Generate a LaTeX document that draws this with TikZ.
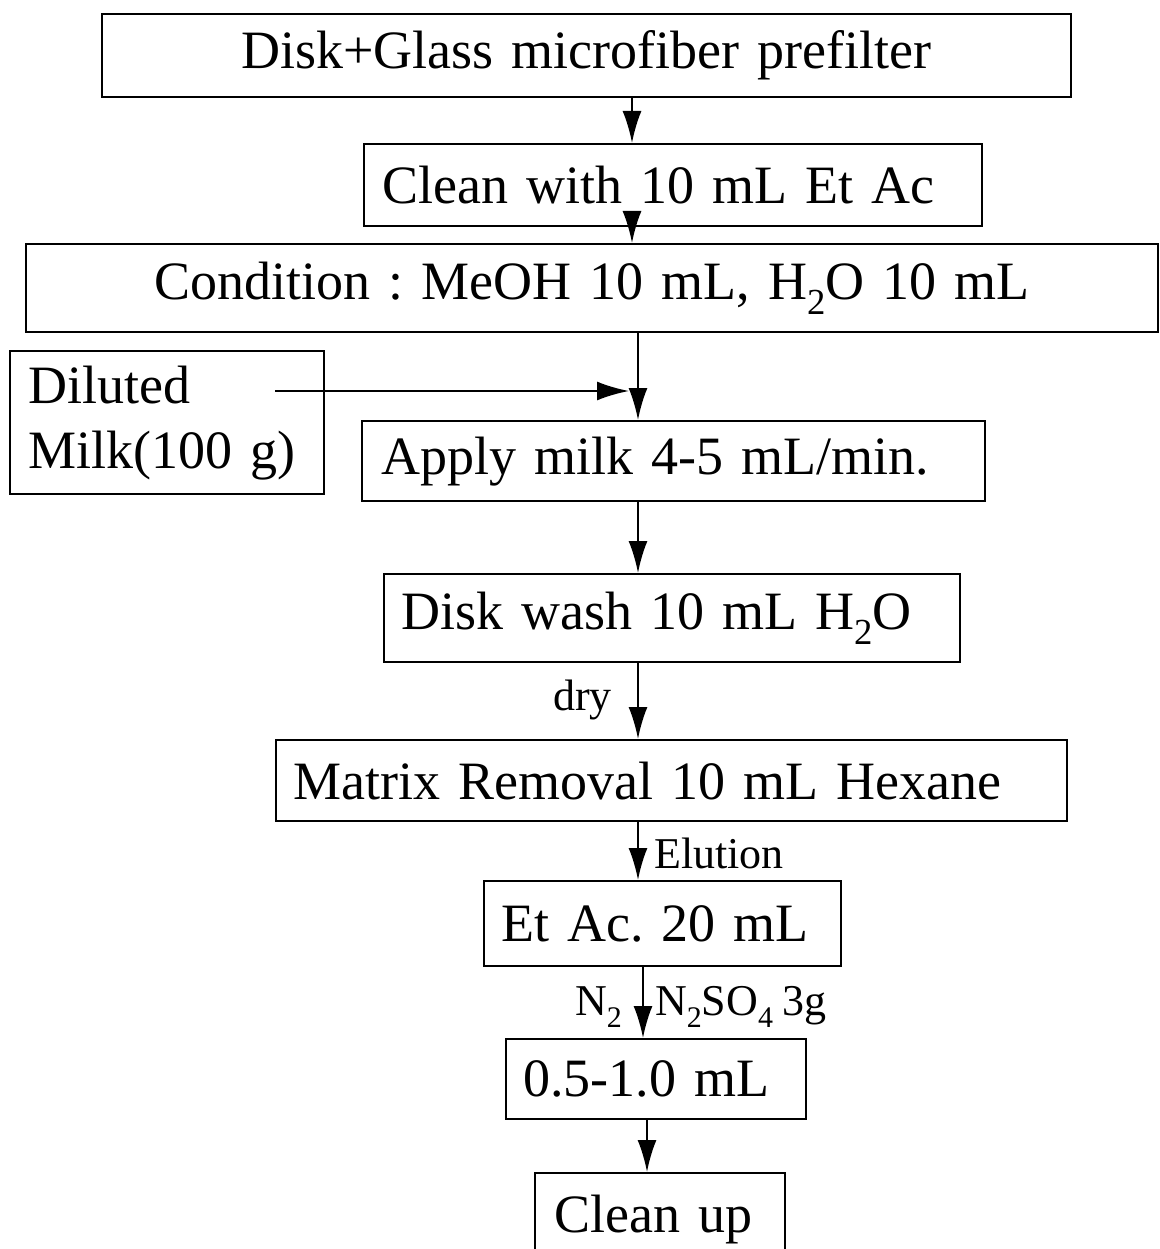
\documentclass[tikz,border=0pt]{standalone}
\usepackage{fontspec}
\usepackage{graphicx}
\setmainfont[WordSpace=0.85]{Liberation Serif}
\usetikzlibrary{arrows.meta}
\newcommand\mysub[1]{\raisebox{-0.28em}{\scalebox{0.68}{#1}}}
\begin{document}
\frenchspacing
\begin{tikzpicture}[x=1pt,y=-1pt,
  box/.style={draw, line width=2.2pt, inner ysep=0pt, anchor=north west,
    font=\fontsize{54}{65}\selectfont\frenchspacing},
  arr/.style={line width=2.2pt, -{Latex[length=32pt,width=19pt]}},
  lab/.style={font=\fontsize{44}{50}\selectfont\frenchspacing, inner sep=0pt}]
\useasboundingbox (0,0) rectangle (1159,1249);

\node[box, inner xsep=18pt, minimum width=969pt, minimum height=83pt, text width=933pt, align=center] (b1) at (101,13) {Disk+Glass microfiber prefilter};
\node[box, inner xsep=18pt, minimum width=618pt, minimum height=82pt, text width=582pt, align=left] (b2) at (363,143) {Clean with 10 mL Et Ac};
\node[box, inner xsep=18pt, minimum width=1132pt, minimum height=88pt, text width=1096pt, align=center] (b3) at (25,243) {Condition : MeOH 10 mL, H\mysub{2}O 10 mL};
\node[box, inner xsep=18pt, minimum width=314pt, minimum height=143pt, text width=278pt, align=left] (b4) at (9,350) {Diluted\\Milk(100 g)};
\node[box, inner xsep=19pt, minimum width=623pt, minimum height=80pt, text width=585pt, align=left] (b5) at (361,420) {Apply milk 4-5 mL/min.};
\node[box, inner xsep=17pt, minimum width=576pt, minimum height=88pt, text width=542pt, align=left] (b6) at (383,573) {Disk wash 10 mL H\mysub{2}O};
\node[box, inner xsep=17pt, minimum width=791pt, minimum height=81pt, text width=757pt, align=left] (b7) at (275,739) {Matrix Removal 10 mL Hexane};
\node[box, inner xsep=17pt, minimum width=357pt, minimum height=85pt, text width=323pt, align=left] (b8) at (483,880) {Et Ac. 20 mL};
\node[box, inner xsep=17pt, minimum width=300pt, minimum height=80pt, text width=266pt, align=left] (b9) at (505,1038) {0.5-1.0 mL};
\node[box, inner xsep=19pt, minimum width=250pt, minimum height=92pt, text width=212pt, align=left] (b10) at (534,1172) {Clean up};

\coordinate (c1) at (632,0);
\coordinate (c3) at (638,0);
\coordinate (c7) at (643,0);
\coordinate (c8) at (647,0);
\coordinate (hstart) at (275,391);
\coordinate (hend) at (629,391);

\draw[arr] (b1.south -| c1) -- (b2.north -| c1);
\draw[arr] (b2.south -| c1) -- (b3.north -| c1);
\draw[arr] (b3.south -| c3) -- (b5.north -| c3);
\draw[arr] (hstart) -- (hend);
\draw[arr] (b5.south -| c3) -- (b6.north -| c3);
\draw[arr] (b6.south -| c3) -- (b7.north -| c3);
\draw[arr] (b7.south -| c3) -- (b8.north -| c3);
\draw[arr] (b8.south -| c7) -- (b9.north -| c7);
\draw[arr] (b9.south -| c8) -- (b10.north -| c8);

\node[lab, anchor=base east] (ldry) at (612,710) {dry};
\node[lab, anchor=base west] (lel) at (654,868) {Elution};
\node[lab, anchor=base east] (ln2) at (622,1015) {N\mysub{2}};
\node[lab, anchor=base west] (lna) at (655,1015) {N\mysub{2}SO\mysub{4} 3g};
\end{tikzpicture}
\end{document}
